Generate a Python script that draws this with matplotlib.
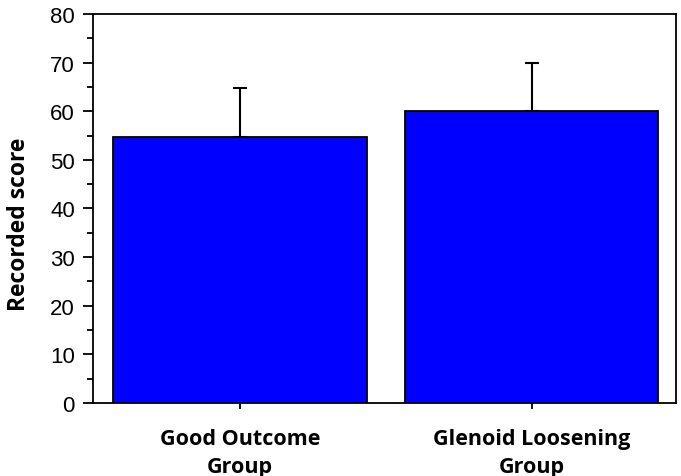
import numpy as np
import matplotlib.pyplot as plt

groups = ['Good Outcome\nGroup', 'Glenoid Loosening\nGroup']
means = [54.6, 60.0]
sd_upper = [10.1, 9.9]

fig = plt.figure(figsize=(6.81, 4.77), dpi=100)
ax = fig.add_axes([0.1366, 0.153, 0.856, 0.8156])

x = np.arange(len(groups))
ax.bar(x, means, width=0.87, color='#0000ff', edgecolor='black', linewidth=1.3, zorder=2)
ax.errorbar(x, means, yerr=[np.zeros(len(means)), sd_upper], fmt='none',
            ecolor='black', elinewidth=1.5, capsize=5, capthick=1.5, zorder=1)

ax.set_xlim(-0.503, 1.495)
ax.set_ylim(0, 80)
ax.set_yticks(np.arange(0, 81, 10))
ax.set_yticks(np.arange(5, 80, 10), minor=True)
ax.set_xticks(x)
ax.set_xticklabels(groups, fontfamily='Open Sans', fontweight='bold', fontsize=15.5, linespacing=1.45)
ax.tick_params(axis='x', length=4, width=1.3, pad=14)
ax.tick_params(axis='y', which='major', length=7, width=1.3, labelsize=16, pad=6)
ax.tick_params(axis='y', which='minor', length=4, width=1.3)
for lbl in ax.get_yticklabels():
    lbl.set_fontfamily('Liberation Sans')
ax.set_ylabel('Recorded score', fontfamily='Open Sans', fontweight='bold', fontsize=16.5)
ax.yaxis.set_label_coords(-0.106, 0.463)

for s in ax.spines.values():
    s.set_linewidth(1.3)

fig.savefig('out.png', dpi=100)
